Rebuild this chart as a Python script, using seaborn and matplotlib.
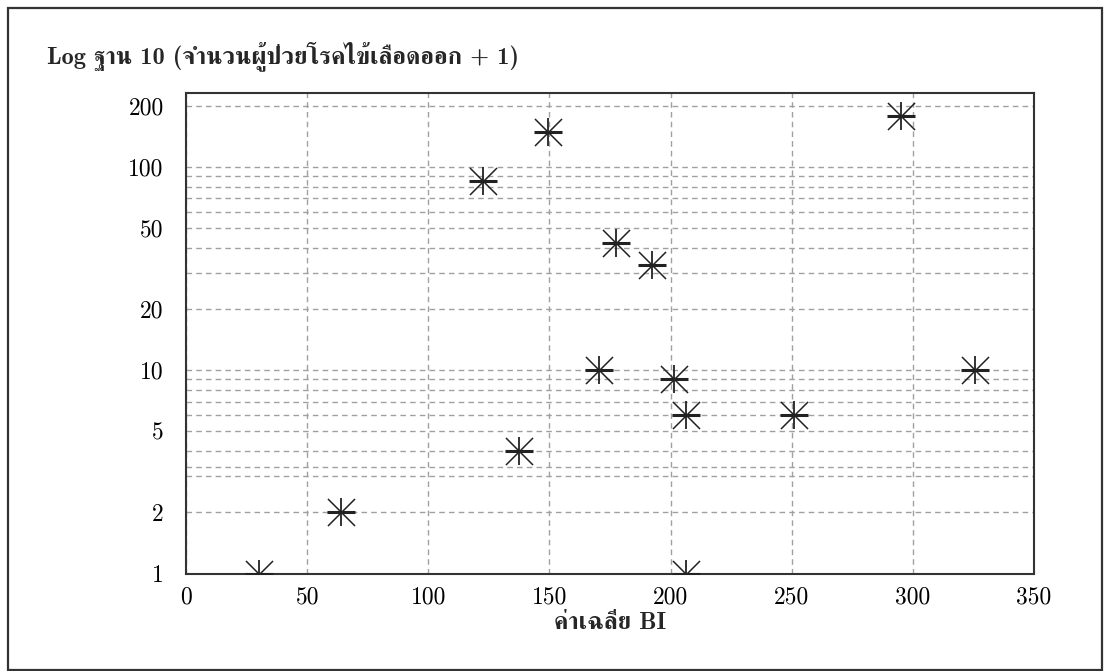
import matplotlib
matplotlib.use("Agg")
import matplotlib.pyplot as plt
import seaborn as sns
import pandas as pd
from matplotlib import font_manager as fm
from matplotlib.ft2font import FT2Font
from matplotlib.patches import Rectangle
from matplotlib.ticker import FixedLocator, NullFormatter

# ---------------- data ----------------
bi_mean = [30, 64, 122.5, 137.5, 149.5, 170.5, 177.5, 192.5, 201.5, 206.5, 206.5, 251, 295, 325.5]
cases_plus1 = [1, 2, 85, 4, 149, 10, 42, 33, 9, 6, 1, 6, 177, 10]
x_ticks = [0, 50, 100, 150, 200, 250, 300, 350]
y_ticks = [1, 2, 5, 10, 20, 50, 100, 200]
y_minor = [3, 3.35, 4, 6, 7, 8, 9, 30, 40, 60, 70, 80, 90]
title_text = "Log ฐาน 10 (จำนวนผู้ป่วยโรคไข้เลือดออก + 1)"
xlabel_text = "ค่าเฉลี่ย BI"

df = pd.DataFrame({"bi": bi_mean, "cases": cases_plus1})

# ---------------- fonts ----------------
def find_thai():
    serif, other = [], []
    for f in fm.fontManager.ttflist:
        try:
            ft = FT2Font(f.fname)
            if ft.get_char_index(ord("ฐ")) and ft.get_char_index(ord("ำ")):
                (serif if "serif" in f.name.lower() and "sans" not in f.name.lower() else other).append(f.name)
        except Exception:
            pass
    cands = serif + other
    return cands[0] if cands else None

thai = find_thai()
sns.set_theme(style="white")
base_r = ["cmr10"] + ([thai] if thai else []) + ["DejaVu Serif"]
base_b = ["cmb10"] + ([thai] if thai else []) + ["DejaVu Serif"]
plt.rcParams["font.family"] = base_r
plt.rcParams["axes.unicode_minus"] = False

W, H = 1104, 671
fig = plt.figure(figsize=(W / 100, H / 100), dpi=100)
fig.patch.set_facecolor("white")
ax = fig.add_axes([186 / W, 1 - 573.5 / H, (1034 - 186) / W, (573.5 - 92.5) / H])

mcol = "#222222"
sns.scatterplot(data=df, x="bi", y="cases", marker="x", s=380, color=mcol, linewidth=1.1, ax=ax, zorder=3)
sns.scatterplot(data=df, x="bi", y="cases", marker="|", s=380, color=mcol, linewidth=1.3, ax=ax, zorder=3)
sns.scatterplot(data=df, x="bi", y="cases", marker="_", s=380, color=mcol, linewidth=2.2, ax=ax, zorder=3)

ax.set_yscale("log")
ax.set_xlim(0, 350)
ax.set_ylim(1, 232)
ax.set_xticks(x_ticks)
ax.set_xticklabels([str(v) for v in x_ticks])
ax.set_yticks(y_ticks)
ax.set_yticklabels([str(v) for v in y_ticks])
ax.yaxis.set_minor_locator(FixedLocator(y_minor))
ax.yaxis.set_minor_formatter(NullFormatter())

gstyle = dict(color="#a0a0a0", linestyle=(0, (4, 3)), linewidth=1.0)
ax.grid(True, which="major", axis="both", **gstyle)
ax.grid(True, which="minor", axis="y", **gstyle)
ax.set_axisbelow(True)

ax.tick_params(axis="both", which="both", length=0, labelsize=17, colors="black")
ax.tick_params(axis="x", pad=9)
ax.tick_params(axis="y", pad=16)
for sp in ax.spines.values():
    sp.set_color("#333333")
    sp.set_linewidth(1.5)

ax.set_xlabel(xlabel_text, family=base_b, fontweight="bold", fontsize=17.5, labelpad=3)
ax.set_ylabel("")
fig.text(47 / W, 1 - 63 / H, title_text, family=base_b, fontweight="bold",
         fontsize=17.5, ha="left", va="baseline")

# outer frame (inset on left/top as in the reference)
fig.patches.append(Rectangle((8 / W, 1.5 / H), (1102 - 8) / W, (H - 8 - 1.5) / H,
                             transform=fig.transFigure, fill=False,
                             edgecolor="#333333", linewidth=1.6))

fig.savefig("out.png", dpi=100, facecolor="white")
